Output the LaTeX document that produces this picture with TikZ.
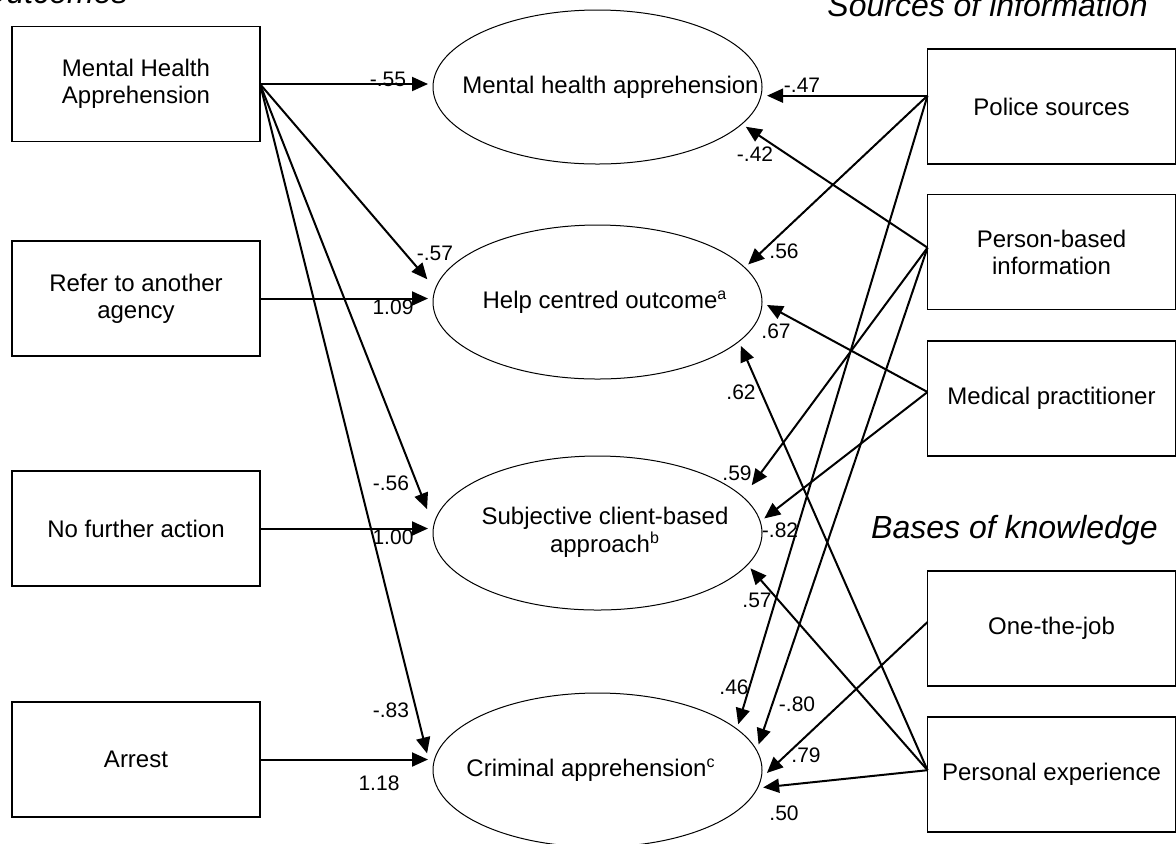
\documentclass[tikz,border=0pt]{standalone}
\usepackage{fontspec}
\setmainfont{Liberation Sans}
\usetikzlibrary{arrows.meta,shapes.geometric}

\begin{document}
\begin{tikzpicture}[x=0.5pt,y=-0.5pt,
    font=\fontsize{12}{13.5}\selectfont,
    box/.style={draw,line width=0.75pt,minimum width=124pt,minimum height=57.5pt,inner sep=0pt,outer sep=0pt,align=center},
    ell/.style={draw,line width=0.5pt,ellipse,minimum width=164.5pt,minimum height=77pt,inner sep=0pt,outer sep=2.5pt},
    arr/.style={line width=1pt,-{Triangle[length=8pt,width=7pt]}},
    wt/.style={inner sep=0pt,font=\fontsize{10.5}{12}\selectfont},
    head/.style={inner sep=0pt,anchor=base east,font=\fontsize{16}{19}\selectfont\itshape}]
    \def\inell#1#2{\makebox[0pt]{\hspace{#1}#2}}
    \useasboundingbox (0,0) rectangle (1176,843);
    \clip (0,0) rectangle (1176,843);

    \node[head] (tout) at (128,3) {Outcomes};
    \node[head] (tsrc) at (1148,16) {Sources of information};
    \node[head] (tbas) at (1158,538) {Bases of knowledge};

    \node[box] (mhaout) at (136,84) {Mental Health\\Apprehension};
    \node[box] (refer) at (136,298.5) {Refer to another\\agency};
    \node[box] (nfa) at (136,528.5) {No further action};
    \node[box] (arrest) at (136,759.5) {Arrest};

    \node[ell] (mhapp) at (597.5,87) {\inell{13pt}{Mental health apprehension}};
    \node[ell] (help) at (597.5,302) {\inell{7.5pt}{Help centred outcome\textsuperscript{a}}};
    \node[ell] (subj) at (597.5,533) {\inell{7.5pt}{\begin{tabular}{@{}c@{}}Subjective client-based\\approach\textsuperscript{b}\end{tabular}}};
    \node[ell] (crim) at (597.5,770) {\inell{-6.5pt}{Criminal apprehension\textsuperscript{c}}};

    \node[box] (police) at (1051.5,106.5) {Police sources};
    \node[box] (person) at (1051.5,252) {Person-based\\information};
    \node[box] (medic) at (1051.5,398.5) {Medical practitioner};
    \node[box] (onjob) at (1051.5,628.5) {One-the-job};
    \node[box] (pexp) at (1051.5,774.5) {Personal experience};

    \draw[arr] (mhaout.east) -- (mhaout.east -| mhapp.west);
    \draw[arr,shorten >=3.5pt] (mhaout.east) -- (help.174);
    \draw[arr,shorten >=5pt] (mhaout.east) -- (subj.175);
    \draw[arr,shorten >=4pt] (mhaout.east) -- (crim.177);
    \draw[arr] (refer.east) -- (refer.east -| help.west);
    \draw[arr] (nfa.east) -- (nfa.east -| subj.west);
    \draw[arr] (arrest.east) -- (arrest.east -| crim.west);

    \draw[arr] (police.175) -- (police.175 -| mhapp.east);
    \draw[arr] (police.175) -- (help.14);
    \draw[arr] (police.175) -- (crim.18);
    \draw[arr] (person.178) -- (mhapp.345);
    \draw[arr,shorten >=5pt] (person.178) -- (subj.15);
    \draw[arr] (person.178) -- (crim.9);
    \draw[arr] (medic.177) -- (help.359);
    \draw[arr] (medic.177) -- (subj.5);
    \draw[arr] (onjob.177) -- (crim.359);
    \draw[arr] (pexp.178) -- (help.343);
    \draw[arr] (pexp.178) -- (subj.347);
    \draw[arr] (pexp.178) -- (crim.354);

    \node[wt] (w1) at (388,79) {-.55};
    \node[wt] (w2) at (435,253) {-.57};
    \node[wt] (w3) at (393,307) {1.09};
    \node[wt] (w4) at (391,483) {-.56};
    \node[wt] (w5) at (393,537) {1.00};
    \node[wt] (w6) at (391,710) {-.83};
    \node[wt] (w7) at (379,783) {1.18};
    \node[wt] (w8) at (802,85) {-.47};
    \node[wt] (w9) at (755,154) {-.42};
    \node[wt] (w10) at (784,251) {.56};
    \node[wt] (w11) at (776,331) {.67};
    \node[wt] (w12) at (741,392) {.62};
    \node[wt] (w13) at (737,473) {.59};
    \node[wt] (w14) at (780,530) {-.82};
    \node[wt] (w15) at (757,600) {.57};
    \node[wt] (w16) at (734,687) {.46};
    \node[wt] (w17) at (797,704) {-.80};
    \node[wt] (w18) at (806,755) {.79};
    \node[wt] (w19) at (784,813) {.50};
\end{tikzpicture}
\end{document}
